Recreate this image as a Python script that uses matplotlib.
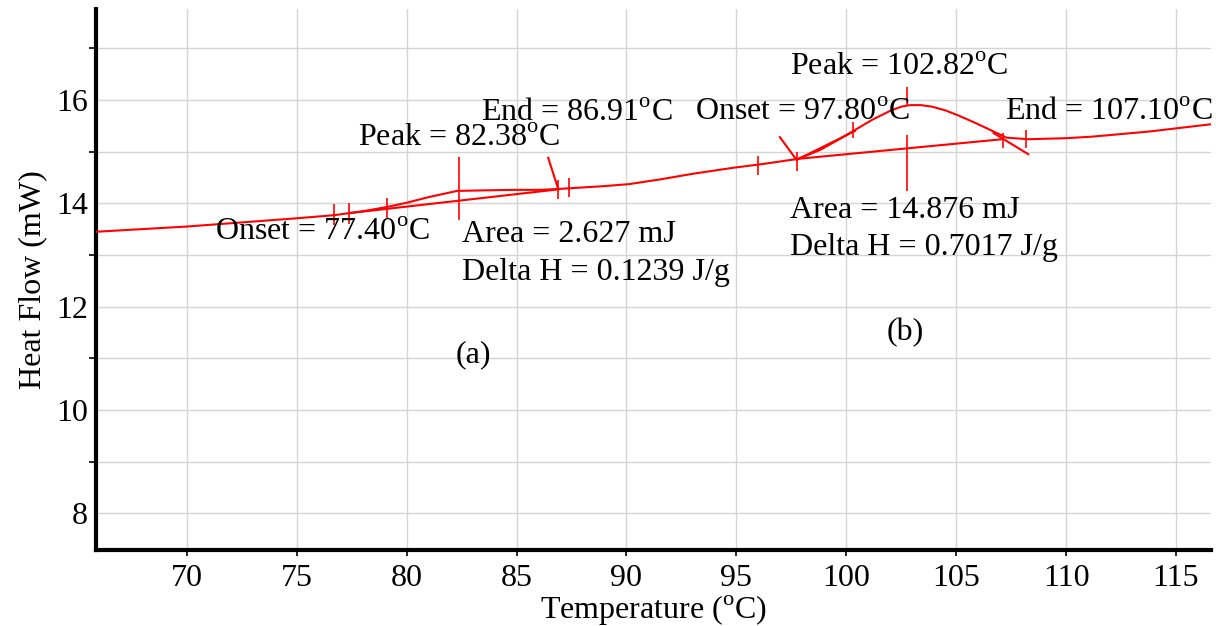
import matplotlib.pyplot as plt
from matplotlib.ticker import MultipleLocator

plt.rcParams['font.family'] = ['Liberation Serif', 'DejaVu Serif']
plt.rcParams['mathtext.fontset'] = 'custom'
plt.rcParams['mathtext.rm'] = 'Liberation Serif'

# DSC curve
temp = [65.9, 70, 75, 76.7, 77.4, 78.2, 79.0, 80.0, 81.0, 82.3, 83.5, 84.9,
        86.1, 87.0, 88.9, 90.1, 91.5, 93.0, 94.9, 96.2, 97.8, 98.8, 99.6,
        100.4, 101.2, 102.0, 102.5, 102.9, 103.4, 103.9, 104.5, 105.1, 105.9,
        106.7, 107.3, 108.3, 110.0, 111.2, 113.8, 116.6]
heat_flow = [13.45, 13.55, 13.71, 13.77, 13.81, 13.86, 13.92, 14.01, 14.12,
             14.24, 14.25, 14.26, 14.26, 14.28, 14.33, 14.37, 14.46, 14.57,
             14.69, 14.76, 14.86, 15.03, 15.22, 15.42, 15.62, 15.79, 15.87,
             15.90, 15.90, 15.87, 15.80, 15.70, 15.55, 15.39, 15.27, 15.24,
             15.26, 15.29, 15.39, 15.53]

# integration baselines (onset -> end) for peaks a and b
base_a_t = [77.4, 86.91]
base_a_hf = [13.81, 14.27]
base_b_t = [97.8, 107.1]
base_b_hf = [14.86, 15.24]

# pointer / tangent segments
seg_t = [[86.44, 86.9], [96.98, 97.74], [106.7, 108.28], [97.74, 100.4]]
seg_hf = [[14.88, 14.27], [15.28, 14.84], [15.36, 14.95], [14.84, 15.40]]

# vertical marker ticks: position, low, high
mark_t = [76.7, 77.4, 79.1, 86.9, 87.4, 96.0, 97.74, 100.3, 107.15, 108.2,
          82.38, 102.78, 102.78]
mark_lo = [13.58, 13.6, 13.72, 14.08, 14.12, 14.55, 14.62, 15.26, 15.07, 15.07,
           13.68, 15.88, 14.23]
mark_hi = [13.98, 14.0, 14.1, 14.45, 14.48, 14.91, 15.0, 15.58, 15.36, 15.42,
           14.90, 16.26, 15.32]

deg = r'$^{\rm o}$C'
labels = ['End = 86.91' + deg, 'Peak = 82.38' + deg, 'Onset = 77.40' + deg,
          'Area = 2.627 mJ', 'Delta H = 0.1239 J/g',
          'Peak = 102.82' + deg, 'Onset = 97.80' + deg, 'End = 107.10' + deg,
          'Area = 14.876 mJ', 'Delta H = 0.7017 J/g']
label_t = [83.36, 77.79, 71.29, 82.53, 82.53, 97.44, 93.12, 107.23, 97.44, 97.44]
label_hf = [15.74, 15.26, 13.43, 13.39, 12.67, 16.63, 15.75, 15.75, 13.87, 13.14]
panel = ['(a)', '(b)']
panel_t = [83.03, 102.68]
panel_hf = [11.06, 11.49]

fig = plt.figure(figsize=(12.16, 6.26), dpi=100)
ax = fig.add_axes([0.079, 0.1214, 0.917, 0.8642])

red = '#ff0000'
ax.plot(temp, heat_flow, color=red, lw=1.5, zorder=3)
ax.plot(base_a_t, base_a_hf, color=red, lw=1.5, zorder=3)
ax.plot(base_b_t, base_b_hf, color=red, lw=1.5, zorder=3)
for t, h in zip(seg_t, seg_hf):
    ax.plot(t, h, color=red, lw=1.5, zorder=3)
ax.vlines(mark_t, mark_lo, mark_hi, color=red, lw=1.2, zorder=3)

for s, t, h in zip(labels, label_t, label_hf):
    ax.text(t, h, s, fontsize=23, ha='left', va='center', zorder=4)
for s, t, h in zip(panel, panel_t, panel_hf):
    ax.text(t, h, s, fontsize=23, ha='center', va='center', zorder=4)

ax.set_xlim(65.87, 116.6)
ax.set_ylim(7.29, 17.76)
ax.set_xticks(range(70, 116, 5))
ax.set_yticks(range(8, 17, 2))
ax.yaxis.set_minor_locator(MultipleLocator(1))
ax.grid(True, which='both', color='#d4d4d4', lw=1.0, zorder=0)
ax.grid(False, which='minor', axis='x')
ax.tick_params(axis='both', which='major', labelsize=23, length=4, width=1.2,
               pad=6)
ax.tick_params(axis='y', which='major', length=0, pad=6)
ax.tick_params(axis='y', which='minor', length=5, width=1.2)

for side in ['top', 'right']:
    ax.spines[side].set_visible(False)
for side in ['left', 'bottom']:
    ax.spines[side].set_linewidth(3)

ax.set_xlabel('Temperature (' + deg + ')', fontsize=23, labelpad=1)
ax.set_ylabel('Heat Flow (mW)', fontsize=23, labelpad=6)

fig.savefig('out.png', dpi=100)
